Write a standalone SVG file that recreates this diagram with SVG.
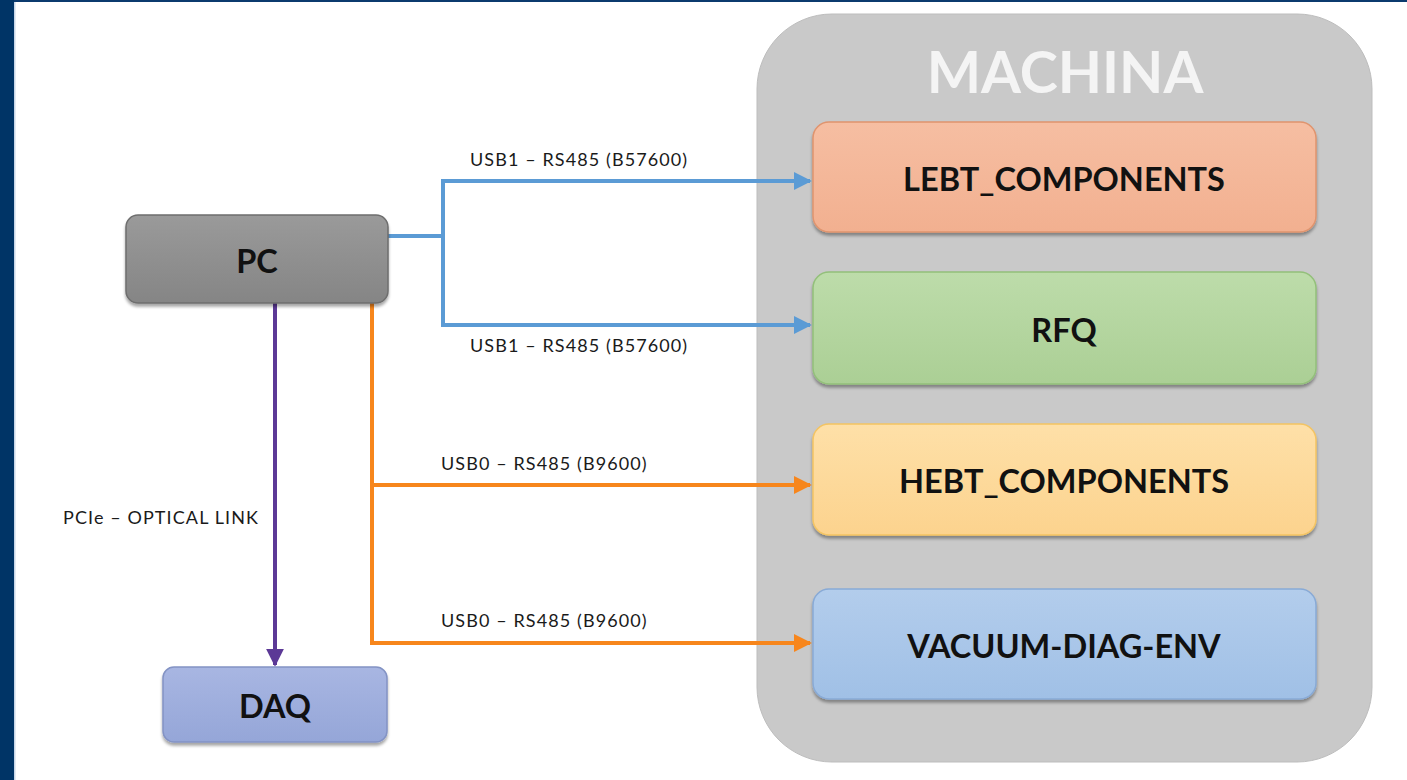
<svg xmlns="http://www.w3.org/2000/svg" width="1407" height="780" viewBox="0 0 1407 780">
  <style>
    .node-label { font-family: Lato, "Open Sans", "Liberation Sans", sans-serif; font-weight: bold; font-size: 32.5px; fill: #111; text-anchor: middle; }
    .link-label { font-family: Lato, "Open Sans", "Liberation Sans", sans-serif; font-size: 18px; letter-spacing: 1.1px; fill: #1a1a1a; }
    .box { stroke-width: 1.5; filter: url(#shadow); }
    .wire { fill: none; stroke-width: 4; }
  </style>
  <defs>
    <filter id="shadow" x="-5%" y="-10%" width="110%" height="125%">
      <feDropShadow dx="0" dy="3" stdDeviation="1.5" flood-color="#000" flood-opacity="0.35"/>
    </filter>
    <linearGradient id="gPC" x1="0" y1="0" x2="0" y2="1">
      <stop offset="0" stop-color="#9a9a9a"/>
      <stop offset="1" stop-color="#858585"/>
    </linearGradient>
    <linearGradient id="gDAQ" x1="0" y1="0" x2="0" y2="1">
      <stop offset="0" stop-color="#a8b6e2"/>
      <stop offset="1" stop-color="#95a6d8"/>
    </linearGradient>
    <linearGradient id="gLEBT" x1="0" y1="0" x2="0" y2="1">
      <stop offset="0" stop-color="#f6bea2"/>
      <stop offset="1" stop-color="#f2b090"/>
    </linearGradient>
    <linearGradient id="gRFQ" x1="0" y1="0" x2="0" y2="1">
      <stop offset="0" stop-color="#bddcaa"/>
      <stop offset="1" stop-color="#abcf95"/>
    </linearGradient>
    <linearGradient id="gHEBT" x1="0" y1="0" x2="0" y2="1">
      <stop offset="0" stop-color="#fee0a8"/>
      <stop offset="1" stop-color="#fcd38e"/>
    </linearGradient>
    <linearGradient id="gVAC" x1="0" y1="0" x2="0" y2="1">
      <stop offset="0" stop-color="#b3cdec"/>
      <stop offset="1" stop-color="#a0c0e6"/>
    </linearGradient>
    <marker id="arrBlue" viewBox="0 0 10 10" refX="9" refY="5" markerWidth="4.5" markerHeight="4.5" orient="auto" markerUnits="strokeWidth">
      <path d="M0,0 L10,5 L0,10 z" fill="#5b9bd5"/>
    </marker>
    <marker id="arrOrange" viewBox="0 0 10 10" refX="9" refY="5" markerWidth="4.5" markerHeight="4.5" orient="auto" markerUnits="strokeWidth">
      <path d="M0,0 L10,5 L0,10 z" fill="#f7861c"/>
    </marker>
    <marker id="arrPurple" viewBox="0 0 10 10" refX="9" refY="5" markerWidth="4.5" markerHeight="4.5" orient="auto" markerUnits="strokeWidth">
      <path d="M0,0 L10,5 L0,10 z" fill="#5c3996"/>
    </marker>
  </defs>

  <!-- page background and frame -->
  <rect x="0" y="0" width="1407" height="780" fill="#ffffff"/>
  <rect x="0" y="0" width="1407" height="2" fill="#0b3a6e"/>
  <rect x="0" y="0" width="14" height="780" fill="#003466"/>
  <rect x="14" y="2" width="1.5" height="778" fill="#c7d6e8"/>

  <!-- MACHINA container -->
  <g id="machina">
    <rect x="757" y="14" width="615" height="748" rx="75" ry="75" fill="#c9c9c9" stroke="#bdbdbd" stroke-width="1"/>
    <text x="1065" y="93" font-family="Lato, 'Open Sans', 'Liberation Sans', sans-serif" font-weight="bold" font-size="57.5" fill="#f4f4f4" text-anchor="middle">MACHINA</text>
  </g>

  <!-- connectors -->
  <g id="connectors">
    <path class="wire" stroke="#5b9bd5" d="M388,236 H443"/>
    <path class="wire" stroke="#5b9bd5" d="M443,236 V181 H810" marker-end="url(#arrBlue)"/>
    <path class="wire" stroke="#5b9bd5" d="M443,236 V325 H810" marker-end="url(#arrBlue)"/>
    <path class="wire" stroke="#f7861c" d="M372,303 V485 H810" marker-end="url(#arrOrange)"/>
    <path class="wire" stroke="#f7861c" d="M372,485 V643 H810" marker-end="url(#arrOrange)"/>
    <path class="wire" stroke="#5c3996" d="M275,303 V665" marker-end="url(#arrPurple)"/>
    <text class="link-label" x="470" y="166">USB1 – RS485 (B57600)</text>
    <text class="link-label" x="470" y="352">USB1 – RS485 (B57600)</text>
    <text class="link-label" x="441" y="470">USB0 – RS485 (B9600)</text>
    <text class="link-label" x="441" y="627">USB0 – RS485 (B9600)</text>
    <text class="link-label" x="63" y="524">PCIe – OPTICAL LINK</text>
  </g>

  <!-- nodes -->
  <g id="pc">
    <rect class="box" x="126" y="215" width="262" height="88" rx="12" fill="url(#gPC)" stroke="#6e6e6e"/>
    <text class="node-label" x="257" y="273">PC</text>
  </g>
  <g id="daq">
    <rect class="box" x="163" y="667" width="224" height="75" rx="11" fill="url(#gDAQ)" stroke="#8393c4"/>
    <text class="node-label" x="275" y="718">DAQ</text>
  </g>
  <g id="lebt">
    <rect class="box" x="813" y="122" width="503" height="110" rx="16" fill="url(#gLEBT)" stroke="#e0946e"/>
    <text class="node-label" x="1064" y="191">LEBT_COMPONENTS</text>
  </g>
  <g id="rfq">
    <rect class="box" x="813" y="272" width="503" height="112" rx="16" fill="url(#gRFQ)" stroke="#93c07a"/>
    <text class="node-label" x="1064" y="342">RFQ</text>
  </g>
  <g id="hebt">
    <rect class="box" x="813" y="424" width="503" height="111" rx="16" fill="url(#gHEBT)" stroke="#f4c462"/>
    <text class="node-label" x="1064" y="493">HEBT_COMPONENTS</text>
  </g>
  <g id="vacuum">
    <rect class="box" x="813" y="589" width="503" height="110" rx="16" fill="url(#gVAC)" stroke="#88aad6"/>
    <text class="node-label" x="1064" y="658">VACUUM-DIAG-ENV</text>
  </g>
</svg>
